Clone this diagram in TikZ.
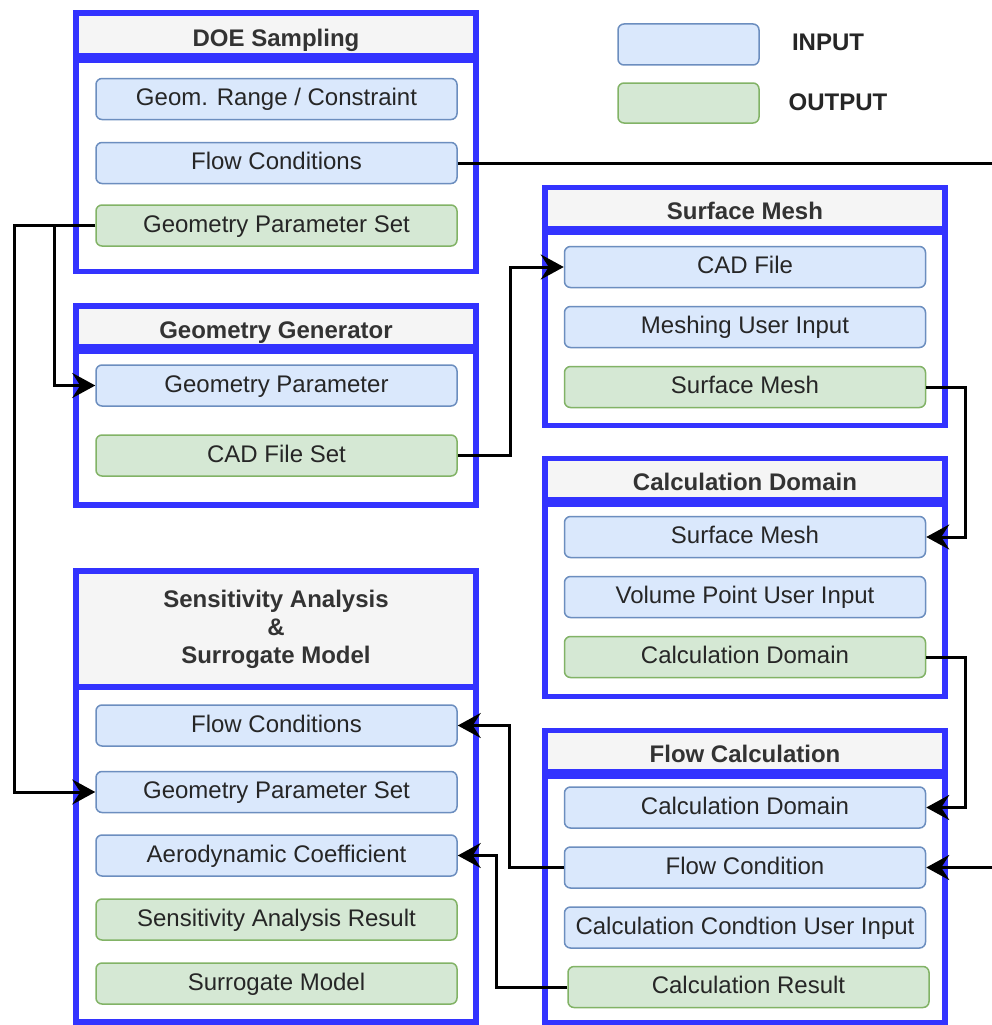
\documentclass[tikz,border=0pt]{standalone}
\usepackage{fontspec}
\setmainfont{Liberation Sans}
\usetikzlibrary{arrows.meta}
\definecolor{inpfill}{HTML}{DAE8FC}
\definecolor{inpdraw}{HTML}{6C8EBF}
\definecolor{outfill}{HTML}{D5E8D4}
\definecolor{outdraw}{HTML}{82B366}
\definecolor{contblue}{HTML}{3333FF}
\definecolor{hdrfill}{HTML}{F5F5F5}
\definecolor{hdrtext}{HTML}{333333}
\begin{document}
\begin{tikzpicture}[x=1pt,y=-1pt,
 font=\fontsize{24}{28}\selectfont,
 item/.style={rectangle, rounded corners=6pt, line width=1.5pt, minimum width=361pt, minimum height=41pt, inner sep=0pt, text height=18pt, text depth=4.8pt, text=black!85},
 inp/.style={item, draw=inpdraw, fill=inpfill},
 outp/.style={item, draw=outdraw, fill=outfill},
 hdr/.style={rectangle, draw=contblue, line width=5.5pt, fill=hdrfill, text=hdrtext, font=\fontsize{24}{28}\selectfont\bfseries, inner sep=0pt, minimum width=400pt, text height=24pt, text depth=0.8pt},
 body/.style={rectangle, draw=contblue, line width=5.5pt, inner sep=0pt, minimum width=400pt},
 conn/.style={line width=3pt, -{Stealth[length=23pt,width=25pt,inset=8pt]}},
 legtext/.style={font=\fontsize{24}{28}\selectfont\bfseries, text=black!85, inner sep=0pt, text height=17.2pt, text depth=0pt}
]
\useasboundingbox[fill=white] (0,0) rectangle (991,1025);

% ---- containers ----
\node[body, minimum height=211.5pt] (doe-b) at (276,165.75) {};
\node[hdr, minimum height=43pt] (doe-h) at (276,34.5) {DOE Sampling};
\node[body, minimum height=154pt] (gg-b) at (276,428) {};
\node[hdr, minimum height=41pt] (gg-h) at (276,326.5) {Geometry Generator};
\node[body, minimum height=336pt] (sa-b) at (276,854) {};
\node[hdr, minimum height=116pt, text height=, text depth=, align=center] (sa-h) at (276,629) {Sensitivity Analysis\\[0pt]\&\\[0pt]Surrogate Model};
\node[body, minimum height=193pt] (sm-b) at (745,329) {};
\node[hdr, minimum height=41pt] (sm-h) at (745,208) {Surface Mesh};
\node[body, minimum height=192.5pt] (cd-b) at (745,600.25) {};
\node[hdr, minimum height=41.5pt] (cd-h) at (745,479.25) {Calculation Domain};
\node[body, minimum height=247pt] (fc-b) at (745,899.5) {};
\node[hdr, minimum height=41.5pt] (fc-h) at (745,751.25) {Flow Calculation};

% ---- items ----
\node[inp] (doe-range) at (276.5,99) {Geom. Range / Constraint};
\node[inp] (doe-flow) at (276.5,163) {Flow Conditions};
\node[outp] (doe-gps) at (276.5,225.5) {Geometry Parameter Set};

\node[inp] (gg-gp) at (276.5,385.5) {Geometry Parameter};
\node[outp] (gg-cad) at (276.5,455.5) {CAD File Set};

\node[inp] (sa-flow) at (276.5,725.5) {Flow Conditions};
\node[inp] (sa-gps) at (276.5,792) {Geometry Parameter Set};
\node[inp] (sa-aero) at (276.5,855.5) {Aerodynamic Coefficient};
\node[outp] (sa-sens) at (276.5,919.5) {Sensitivity Analysis Result};
\node[outp] (sa-surr) at (276.5,983.5) {Surrogate Model};

\node[inp] (sm-cad) at (745,267) {CAD File};
\node[inp] (sm-user) at (745,327) {Meshing User Input};
\node[outp] (sm-out) at (745,387) {Surface Mesh};

\node[inp] (cd-sm) at (745,537) {Surface Mesh};
\node[inp] (cd-vol) at (745,597) {Volume Point User Input};
\node[outp] (cd-out) at (745,657) {Calculation Domain};

\node[inp] (fc-cd) at (745,807.5) {Calculation Domain};
\node[inp] (fc-flow) at (745,867.5) {Flow Condition};
\node[inp] (fc-user) at (745,927.5) {Calculation Condtion User Input};
\node[outp] (fc-res) at (748.5,987) {Calculation Result};

% ---- legend ----
\node[inp, minimum width=141pt, minimum height=41pt] (leg-in) at (688.5,44.5) {};
\node[outp, minimum width=141pt, minimum height=40pt] (leg-out) at (688.5,103) {};
\node[legtext] (leg-in-t) at (828,42) {INPUT};
\node[legtext] (leg-out-t) at (838,102) {OUTPUT};

% ---- connectors ----
\draw[conn] (doe-flow.east) -- (1005,163) |- (fc-flow.east);
\draw[conn] (doe-gps.west) -- ++(-41,0) |- (gg-gp.west);
\draw[conn] (doe-gps.west) -- ++(-81,0) |- (sa-gps.west);
\draw[conn] (gg-cad.east) -- ++(53,0) |- (sm-cad.west);
\draw[conn] (sm-out.east) -- ++(39,0) |- (cd-sm.east);
\draw[conn] (cd-out.east) -- ++(39,0) |- (fc-cd.east);
\draw[conn] (fc-flow.west) -- ++(-54,0) |- (sa-flow.east);
\draw[conn] (fc-res.west) -- ++(-71,0) |- (sa-aero.east);
\end{tikzpicture}
\end{document}
